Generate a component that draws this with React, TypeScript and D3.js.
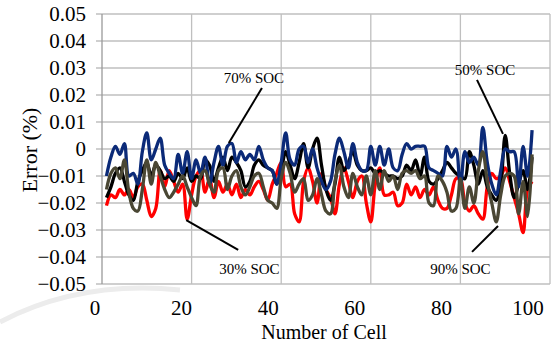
import React, { useEffect, useRef } from 'react'
import * as d3 from 'd3'

// error per cell (%)
const soc30 = [
  -0.021, -0.017, -0.018, -0.015, -0.017, -0.015, -0.018, -0.014, -0.013, -0.019, -0.025, -0.022, -0.008, -0.014, -0.008, -0.012,
  -0.016, -0.013, -0.026, -0.017, -0.01, -0.008, -0.016, -0.011, -0.018, -0.012, -0.016, -0.013, -0.017, -0.013, -0.018, -0.015,
  -0.017, -0.014, -0.012, -0.015, -0.019, -0.013, -0.009, -0.005, -0.014, -0.013, -0.024, -0.027, -0.012, -0.007, -0.012, -0.02,
  -0.009, -0.015, -0.018, -0.024, -0.013, -0.007, -0.012, -0.018, -0.012, -0.01, -0.02, -0.027, -0.013, -0.007, -0.017, -0.017,
  -0.016, -0.021, -0.02, -0.013, -0.017, -0.014, -0.018, -0.015, -0.017, -0.014, -0.019, -0.022, -0.022, -0.017, -0.011, -0.011,
  -0.02, -0.023, -0.021, -0.024, -0.026, -0.014, -0.009, -0.011, -0.01, -0.007, -0.012, -0.018, -0.024, -0.031, -0.015, -0.012,
]
const soc50 = [
  -0.018, -0.014, -0.009, -0.007, -0.012, -0.017, -0.019, -0.012, -0.008, -0.005, -0.01, -0.006, -0.008, -0.011, -0.01, -0.012,
  -0.009, -0.011, -0.007, -0.012, -0.01, -0.011, -0.004, -0.006, -0.012, -0.007, -0.003, -0.008, -0.003, -0.005, -0.008, -0.014,
  -0.012, -0.006, -0.004, -0.006, -0.007, -0.008, -0.013, -0.008, -0.001, -0.006, -0.011, -0.005, 0.002, -0.007, 0.0, 0.004,
  -0.006, -0.015, -0.019, -0.013, -0.003, -0.008, -0.005, -0.001, -0.006, -0.008, -0.008, -0.007, -0.009, -0.008, -0.009, -0.01,
  -0.01, -0.011, -0.01, -0.006, -0.008, -0.004, -0.01, -0.003, -0.012, -0.013, -0.011, -0.008, -0.005, -0.007, -0.009, -0.01,
  -0.011, -0.001, -0.006, -0.013, -0.008, -0.014, -0.017, -0.019, -0.013, 0.005, -0.009, -0.018, -0.013, -0.008, -0.015, -0.003,
]
const soc70 = [
  -0.01, -0.003, 0.001, -0.002, 0.002, -0.01, -0.009, -0.013, -0.001, 0.006, -0.004, 0.0, 0.004, -0.006, -0.009, -0.011,
  -0.002, -0.009, -0.001, -0.011, -0.004, -0.009, -0.003, -0.013, -0.005, 0.001, -0.006, 0.001, 0.002, -0.005, -0.001, -0.004,
  -0.002, -0.004, 0.001, -0.004, -0.007, -0.008, -0.013, -0.005, 0.006, -0.004, -0.006, 0.0, 0.001, -0.005, 0.0, -0.007,
  -0.012, -0.015, -0.012, -0.002, 0.004, -0.001, -0.007, 0.002, -0.005, -0.008, -0.008, 0.001, -0.006, 0.001, -0.006, 0.0,
  -0.007, -0.008, -0.002, 0.002, 0.0, 0.001, 0.001, 0.001, -0.007, -0.008, -0.009, -0.01, 0.001, -0.003, 0.0, -0.014,
  -0.001, -0.005, -0.003, -0.006, 0.008, -0.005, -0.013, -0.017, -0.008, 0.0, -0.001, -0.001, -0.014, 0.001, -0.01, 0.007,
]
const soc90 = [
  -0.015, -0.009, -0.007, -0.011, -0.004, -0.016, -0.022, -0.023, -0.015, -0.004, -0.013, -0.005, -0.01, -0.015, -0.018, -0.016,
  -0.013, -0.01, -0.014, -0.018, -0.021, -0.01, -0.008, -0.013, -0.016, -0.008, -0.007, -0.015, -0.01, -0.008, -0.014, -0.017,
  -0.014, -0.01, -0.009, -0.014, -0.019, -0.02, -0.022, -0.011, -0.005, -0.009, -0.016, -0.013, -0.011, -0.019, -0.017, -0.011,
  -0.017, -0.023, -0.024, -0.012, -0.006, -0.014, -0.018, -0.009, -0.014, -0.017, -0.01, -0.017, -0.008, -0.015, -0.008, -0.012,
  -0.01, -0.015, -0.009, -0.008, -0.009, -0.008, -0.011, -0.01, -0.02, -0.021, -0.01, -0.012, -0.016, -0.023, -0.022, -0.011,
  -0.022, -0.014, -0.02, -0.008, -0.001, -0.012, -0.02, -0.027, -0.017, -0.01, -0.009, -0.01, -0.024, -0.012, -0.025, -0.002,
]

const yTicks = [0.05, 0.04, 0.03, 0.02, 0.01, 0, -0.01, -0.02, -0.03, -0.04, -0.05]
const xTicks = [0, 20, 40, 60, 80, 100]

const series = [
  { name: '30% SOC', values: soc30, color: '#ff0000' },
  { name: '50% SOC', values: soc50, color: '#000000' },
  { name: '70% SOC', values: soc70, color: '#0b2a78' },
  { name: '90% SOC', values: soc90, color: '#4a4734' },
]

// callouts: label position and pointer line, in data units
const notes = [
  { text: '70% SOC', tx: 33.9, ty: 0.0262, x1: 35.7, y1: 0.0226, x2: 28.3, y2: 0.0022 },
  { text: '50% SOC', tx: 85.5, ty: 0.0292, x1: 83.7, y1: 0.0256, x2: 89.5, y2: 0.0056 },
  { text: '30% SOC', tx: 32.9, ty: -0.0445, x1: 18.8, y1: -0.0263, x2: 30.4, y2: -0.0374 },
  { text: '90% SOC', tx: 80.0, ty: -0.0445, x1: 88.4, y1: -0.0285, x2: 82.6, y2: -0.0381 },
]

const App = () => {
  const refSvg = useRef(null)

  const draw = () => {
    const svg = d3.select(refSvg.current)
    svg.selectAll('*').remove()

    const x = d3.scaleLinear().domain([0, 100]).range([102, 550])
    const xLabel = d3.scaleLinear().domain([0, 100]).range([95, 528])
    const y = d3.scaleLinear().domain([-0.05, 0.05]).range([284, 14])
    const font = "'Liberation Serif', 'Times New Roman', serif"

    // faint watermark arc
    svg.append('path')
      .attr('d', 'M0,322 Q80,280 180,290')
      .attr('fill', 'none')
      .attr('stroke', '#ececec')
      .attr('stroke-width', 5)

    const grid = svg.append('g')
    grid.selectAll('line.h')
      .data(yTicks)
      .enter()
      .append('line')
      .attr('x1', 96)
      .attr('x2', x(100))
      .attr('y1', (d) => y(d))
      .attr('y2', (d) => y(d))
      .attr('stroke', '#bfbfbf')
      .attr('stroke-width', 1.3)
    grid.selectAll('line.v')
      .data(xTicks)
      .enter()
      .append('line')
      .attr('x1', (d) => x(d))
      .attr('x2', (d) => x(d))
      .attr('y1', y(0.05))
      .attr('y2', y(-0.05))
      .attr('stroke', (d) => (d === 0 ? '#9a9a9a' : '#bfbfbf'))
      .attr('stroke-width', 1.3)

    svg.append('g')
      .selectAll('text')
      .data(yTicks)
      .enter()
      .append('text')
      .attr('x', 86)
      .attr('y', (d) => y(d) + 7)
      .attr('text-anchor', 'end')
      .style('font-family', font)
      .style('font-size', '21px')
      .text((d) => (d === 0 ? '0' : d3.format('.2f')(d)))

    svg.append('g')
      .selectAll('text')
      .data(xTicks)
      .enter()
      .append('text')
      .attr('x', (d) => xLabel(d))
      .attr('y', 315)
      .attr('text-anchor', 'middle')
      .style('font-family', font)
      .style('font-size', '21px')
      .text((d) => d)

    svg.append('text')
      .attr('x', 324)
      .attr('y', 339)
      .attr('text-anchor', 'middle')
      .style('font-family', font)
      .style('font-size', '20px')
      .text('Number of Cell')

    svg.append('text')
      .attr('transform', 'translate(37,150) rotate(-90)')
      .attr('text-anchor', 'middle')
      .style('font-family', font)
      .style('font-size', '22px')
      .text('Error (%)')

    const line = d3.line<number>()
      .x((d, i) => x(i + 1))
      .y((d) => y(d))
      .curve(d3.curveCatmullRom.alpha(0.5))

    svg.append('g')
      .selectAll('path')
      .data(series)
      .enter()
      .append('path')
      .attr('d', (s) => line(s.values))
      .attr('fill', 'none')
      .attr('stroke', (s) => s.color)
      .attr('stroke-width', 3.3)
      .attr('stroke-linejoin', 'round')

    const ann = svg.append('g')
    ann.selectAll('line')
      .data(notes)
      .enter()
      .append('line')
      .attr('x1', (d) => x(d.x1))
      .attr('y1', (d) => y(d.y1))
      .attr('x2', (d) => x(d.x2))
      .attr('y2', (d) => y(d.y2))
      .attr('stroke', '#000')
      .attr('stroke-width', 2)
    ann.selectAll('text')
      .data(notes)
      .enter()
      .append('text')
      .attr('x', (d) => x(d.tx))
      .attr('y', (d) => y(d.ty) + 5)
      .attr('text-anchor', 'middle')
      .style('font-family', font)
      .style('font-size', '15px')
      .text((d) => d.text)
  }

  useEffect(() => {
    if (refSvg) {
      draw()
    }
  })

  return (
    <svg
      ref={refSvg}
      width={558}
      height={344}
      style={{ position: 'absolute', left: 0, top: 0, background: '#fff' }}
    />
  )
}

export default App
